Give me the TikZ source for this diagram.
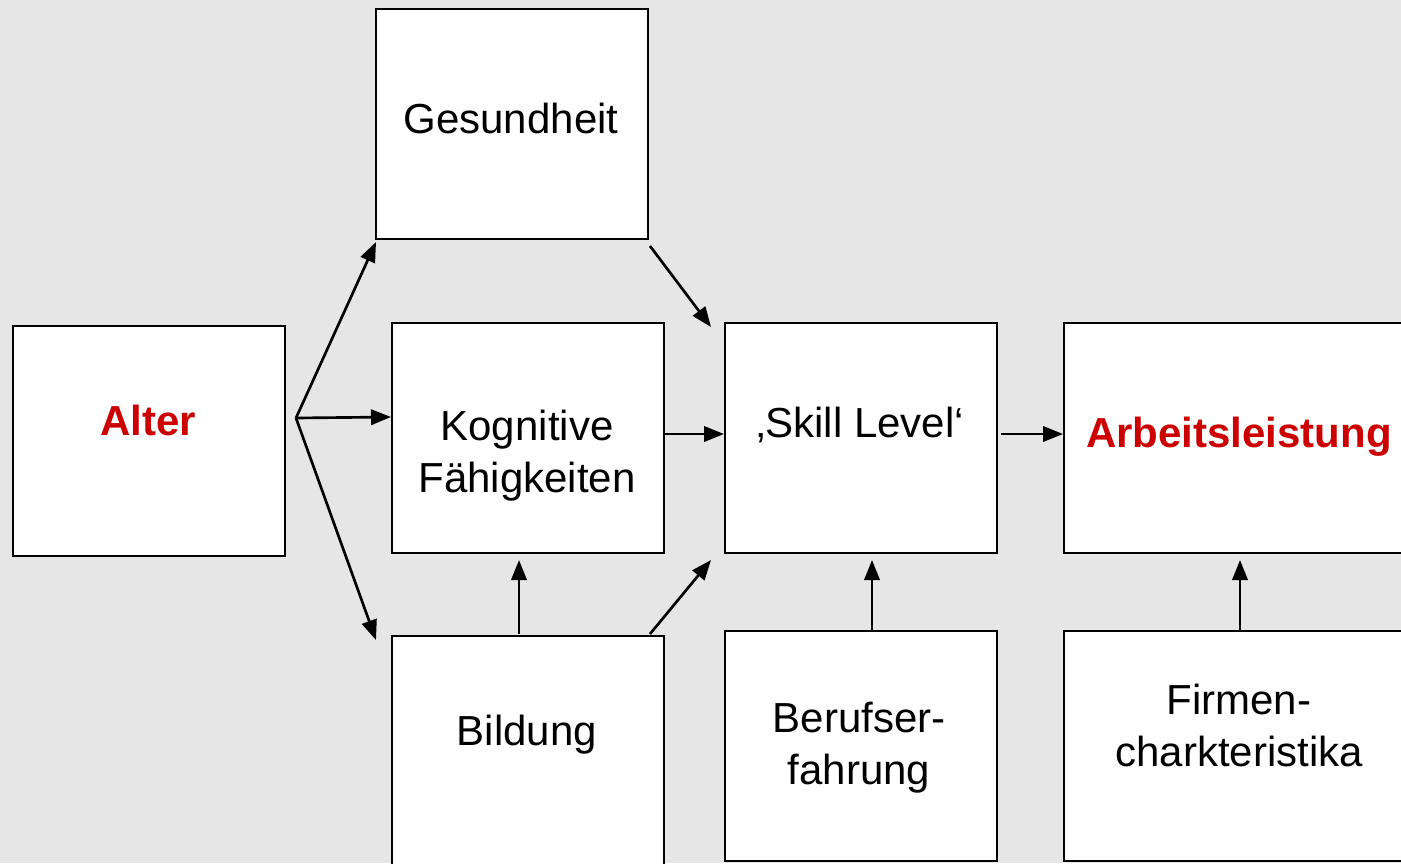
\documentclass[tikz,border=0pt]{standalone}
\usepackage{fontspec}
\setmainfont{Liberation Sans}
\usetikzlibrary{arrows.meta}
\definecolor{bg}{HTML}{E6E6E6}
\definecolor{accent}{HTML}{CC0000}
\tikzset{
  box/.style={draw=black, fill=white, line width=1.5pt, minimum width=272*0.75pt, minimum height=230*0.75pt, inner sep=0pt, anchor=north west},
  txt/.style={font=\fontsize{31.5}{39}\selectfont, align=center, inner sep=0pt},
  red/.style={text=accent, font=\fontsize{31.5}{39}\selectfont\bfseries},
  conn/.style={line width=2pt, -{Triangle[length=15pt, width=11.5pt]}}
}
\begin{document}
\begin{tikzpicture}[x=0.75pt, y=-0.75pt]
\fill[bg] (0,0) rectangle (1401,863);
\useasboundingbox (0,0) rectangle (1401,863);
\clip (0,0) rectangle (1401,863);
% boxes
\node[box] (ges) at (375,8) {};
\node[box] (alt) at (12,325) {};
\node[box] (kog) at (391,322) {};
\node[box] (skl) at (724,322) {};
\node[box, minimum width=352*0.75pt] (arb) at (1063,322) {};
\node[box] (bil) at (391,635) {};
\node[box] (ber) at (724,630) {};
\node[box, minimum width=352*0.75pt] (fir) at (1063,630) {};
% texts
\node[txt, anchor=base] (tges) at (511,133) {Gesundheit};
\node[txt, red, anchor=base] (talt) at (148,435) {Alter};
\node[txt] (tkog) at (527,456) {Kognitive\\Fähigkeiten};
\node[txt, anchor=base] (tskl) at (860,437) {‚Skill Level‘};
\node[txt, red, anchor=base] (tarb) at (1239,447) {Arbeitsleistung};
\node[txt, anchor=base] (tbil) at (527,745) {Bildung};
\node[txt] (tber) at (859,748) {Berufser-\\fahrung};
\node[txt] (tfir) at (1239,725) {Firmen-\\charkteristika};
% connectors
\coordinate (fork) at (296,418);
\draw[conn] (fork) -- (376,242);
\draw[conn] (fork) -- (391,417);
\draw[conn] (fork) -- (376,640);
\draw[conn] (650,246) -- (711,327);
\draw[conn] (kog.east |- 0,434) -- (skl.west |- 0,434);
\draw[conn] (650,634) -- (711,560);
\draw[conn] (519,634) -- (519,560);
\draw[conn] (1001,434) -- (arb.west |- 0,434);
\draw[conn] (872,630) -- (872,560);
\draw[conn] (1240,630) -- (1240,560);
\end{tikzpicture}
\end{document}
